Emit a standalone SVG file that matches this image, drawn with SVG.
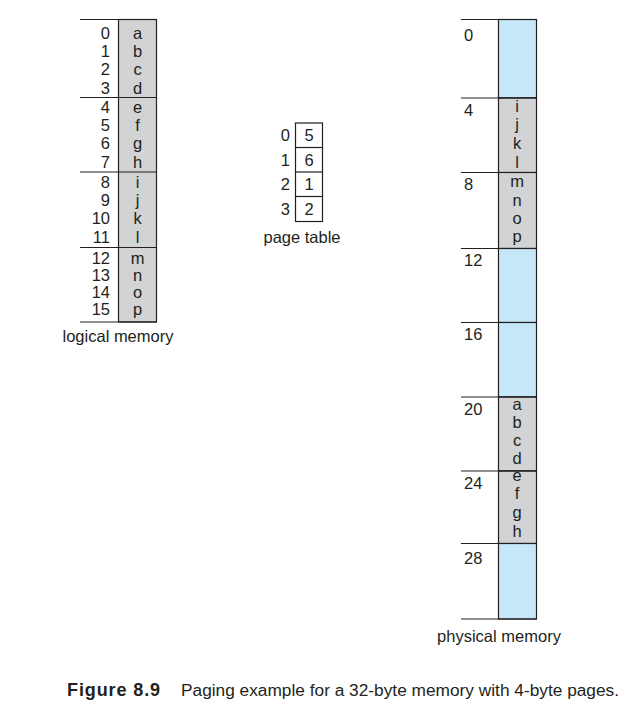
<svg xmlns="http://www.w3.org/2000/svg" width="639" height="710" viewBox="0 0 639 710">
<style>
text{font-family:"Liberation Sans",Arial,sans-serif;fill:#231f20}
.t{font-size:16.5px}
.n{text-anchor:end}
.c{text-anchor:middle}
.lbl{font-size:16.5px;text-anchor:middle}
.g{fill:#d1d3d4;stroke:#231f20;stroke-width:1.2}
.b{fill:#c6e7f8;stroke:#231f20;stroke-width:1.2}
.w{fill:#fff;stroke:#231f20;stroke-width:1.2}
.ln{stroke:#231f20;stroke-width:1.2}
</style>
<rect width="639" height="710" fill="#fff"/>

<g id="logical-memory">
<rect class="g" x="118.5" y="19.5" width="38" height="302.5"/>
<line class="ln" x1="80" y1="19.5" x2="156.5" y2="19.5"/>
<line class="ln" x1="80" y1="97.5" x2="156.5" y2="97.5"/>
<line class="ln" x1="80" y1="172" x2="156.5" y2="172"/>
<line class="ln" x1="80" y1="247.5" x2="156.5" y2="247.5"/>
<line class="ln" x1="80" y1="322" x2="156.5" y2="322"/>
<g class="t n">
<text x="110" y="38.5">0</text><text x="110" y="56.5">1</text><text x="110" y="75">2</text><text x="110" y="93.5">3</text>
<text x="110" y="113">4</text><text x="110" y="131">5</text><text x="110" y="149">6</text><text x="110" y="167.5">7</text>
<text x="110" y="188">8</text><text x="110" y="206">9</text><text x="110" y="224">10</text><text x="110" y="242.5">11</text>
<text x="110" y="263.5">12</text><text x="110" y="280.5">13</text><text x="110" y="297.5">14</text><text x="110" y="314.5">15</text>
</g>
<g class="t c">
<text x="137.5" y="38.5">a</text><text x="137.5" y="56.5">b</text><text x="137.5" y="75">c</text><text x="137.5" y="93.5">d</text>
<text x="137.5" y="113">e</text><text x="137.5" y="131">f</text><text x="137.5" y="149">g</text><text x="137.5" y="167.5">h</text>
<text x="137.5" y="188">i</text><text x="137.5" y="206">j</text><text x="137.5" y="224">k</text><text x="137.5" y="242.5">l</text>
<text x="137.5" y="263.5">m</text><text x="137.5" y="280.5">n</text><text x="137.5" y="297.5">o</text><text x="137.5" y="314.5">p</text>
</g>
<text class="lbl" x="118" y="342">logical memory</text>
</g>

<g id="page-table">
<rect class="w" x="295.5" y="123" width="27" height="98.5"/>
<line class="ln" x1="295.5" y1="147.5" x2="322.5" y2="147.5"/>
<line class="ln" x1="295.5" y1="172" x2="322.5" y2="172"/>
<line class="ln" x1="295.5" y1="196.5" x2="322.5" y2="196.5"/>
<g class="t n">
<text x="290" y="141">0</text><text x="290" y="165.5">1</text><text x="290" y="190">2</text><text x="290" y="214.5">3</text>
</g>
<g class="t c">
<text x="309" y="141">5</text><text x="309" y="165.5">6</text><text x="309" y="190">1</text><text x="309" y="214.5">2</text>
</g>
<text class="lbl" x="302" y="243">page table</text>
</g>

<g id="physical-memory">
<rect class="b" x="498.5" y="19.5" width="38" height="78.5"/>
<rect class="g" x="498.5" y="98" width="38" height="74.5"/>
<rect class="g" x="498.5" y="172.5" width="38" height="76"/>
<rect class="b" x="498.5" y="248.5" width="38" height="74"/>
<rect class="b" x="498.5" y="322.5" width="38" height="74.5"/>
<rect class="g" x="498.5" y="397" width="38" height="74"/>
<rect class="g" x="498.5" y="471" width="38" height="72.5"/>
<rect class="b" x="498.5" y="543.5" width="38" height="75.5"/>
<line class="ln" x1="461" y1="19.5" x2="536.5" y2="19.5"/>
<line class="ln" x1="461" y1="98" x2="536.5" y2="98"/>
<line class="ln" x1="461" y1="172.5" x2="536.5" y2="172.5"/>
<line class="ln" x1="461" y1="248.5" x2="536.5" y2="248.5"/>
<line class="ln" x1="461" y1="322.5" x2="536.5" y2="322.5"/>
<line class="ln" x1="461" y1="397" x2="536.5" y2="397"/>
<line class="ln" x1="461" y1="471" x2="536.5" y2="471"/>
<line class="ln" x1="461" y1="543.5" x2="536.5" y2="543.5"/>
<line class="ln" x1="461" y1="619" x2="536.5" y2="619"/>
<g class="t">
<text x="464" y="41">0</text><text x="464" y="115.5">4</text><text x="464" y="190">8</text><text x="464" y="265.5">12</text>
<text x="464" y="340">16</text><text x="464" y="414.5">20</text><text x="464" y="488.5">24</text><text x="464" y="563.5">28</text>
</g>
<g class="t c">
<text x="517" y="111.5">i</text><text x="517" y="130">j</text><text x="517" y="149">k</text><text x="517" y="168">l</text>
<text x="517" y="187">m</text><text x="517" y="205.5">n</text><text x="517" y="224">o</text><text x="517" y="242">p</text>
<text x="517" y="409.5">a</text><text x="517" y="427.5">b</text><text x="517" y="445.5">c</text><text x="517" y="464">d</text>
<text x="517" y="481">e</text><text x="517" y="499">f</text><text x="517" y="517.5">g</text><text x="517" y="537">h</text>
</g>
<text class="lbl" x="499" y="642">physical memory</text>
</g>

<g id="caption">
<text x="67" y="696" style="font-size:18px;font-weight:bold;letter-spacing:0.9px">Figure 8.9</text>
<text x="181" y="696" style="font-size:17.3px">Paging example for a 32-byte memory with 4-byte pages.</text>
</g>
</svg>
